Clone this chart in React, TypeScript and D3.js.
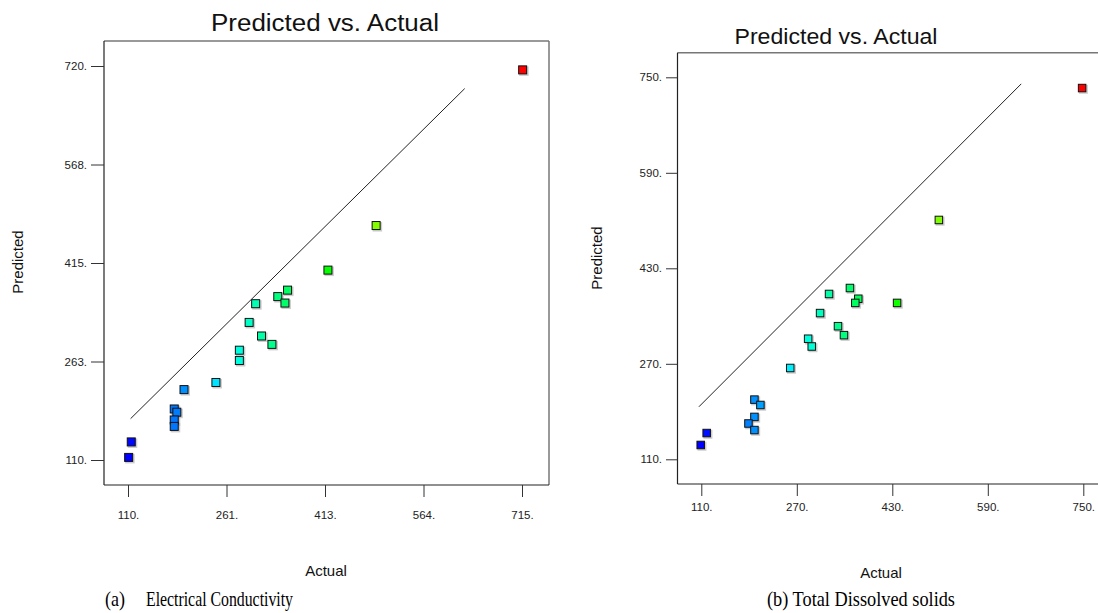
import React, { useEffect, useRef } from 'react';
import * as d3 from 'd3';

// Electrical conductivity (a)
const ecActual = [716, 491, 417, 355, 340, 351, 306, 296, 315, 331, 281, 281, 245, 196, 181, 185, 181, 181, 115, 111];
const ecPredicted = [714, 473, 404, 373, 363, 353, 352, 323, 302, 289, 280, 264, 230, 219, 189, 184, 172, 162, 138, 114];
const ecLineActual = [114, 627];
const ecLinePredicted = [174, 685];
const ecXTicks = [110, 261.25, 412.5, 563.75, 715];
const ecXLabels = ['110.', '261.', '413.', '564.', '715.'];
const ecYTicks = [110, 262.5, 415, 567.5, 720];
const ecYLabels = ['110.', '263.', '415.', '568.', '720.'];

// Total dissolved solids (b)
const tdsActual = [748, 508, 438, 359, 373, 368, 324, 309, 339, 349, 289, 295, 259, 199, 209, 199, 189, 199, 119, 109];
const tdsPredicted = [732, 511, 372, 397, 379, 372, 387, 355, 333, 318, 312, 299, 263, 210, 201, 181, 170, 159, 154, 134];
const tdsLineActual = [106, 646];
const tdsLinePredicted = [198, 739];
const tdsXTicks = [110, 270, 430, 590, 750];
const tdsXLabels = ['110.', '270.', '430.', '590.', '750.'];
const tdsYTicks = [110, 270, 430, 590, 750];
const tdsYLabels = ['110.', '270.', '430.', '590.', '750.'];

const sans = '"Liberation Sans", Arial, sans-serif';
const serif = '"Liberation Serif", "Times New Roman", serif';

const rainbow = d3.scaleLinear<string>()
  .domain([0, 0.25, 0.5, 0.75, 1])
  .range(['#0000ff', '#00ffff', '#00ff00', '#ffff00', '#ff0000']);

const drawPanel = (svg, p) => {
  const g = svg.append('g');

  const x = d3.scaleLinear().domain([p.xTicks[0], p.xTicks[4]]).range(p.xRange);
  const y = d3.scaleLinear().domain([p.yTicks[0], p.yTicks[4]]).range(p.yRange);
  const f = p.frame;

  // plot frame: lighter top/right, dark left/bottom
  g.append('line').attr('x1', f.x0).attr('x2', f.x1).attr('y1', f.y0).attr('y2', f.y0)
    .attr('stroke', '#777').attr('stroke-width', 1.5);
  g.append('line').attr('x1', f.x1).attr('x2', f.x1).attr('y1', f.y0).attr('y2', f.y1)
    .attr('stroke', '#777').attr('stroke-width', 1.5);
  g.append('line').attr('x1', f.x0).attr('x2', f.x0).attr('y1', f.y0).attr('y2', f.y1)
    .attr('stroke', '#222').attr('stroke-width', 1.2);
  g.append('line').attr('x1', f.x0).attr('x2', f.x1).attr('y1', f.y1).attr('y2', f.y1)
    .attr('stroke', '#222').attr('stroke-width', 1.2);

  // axes
  const xAxis = d3.axisBottom(x)
    .tickValues(p.xTicks)
    .tickSize(12)
    .tickPadding(p.xPad)
    .tickFormat((d, i) => p.xLabels[i]);
  const gx = g.append('g').attr('transform', `translate(0,${f.y1})`).call(xAxis);

  const yAxis = d3.axisLeft(y)
    .tickValues(p.yTicks)
    .tickSize(f.x0 - p.yTickStart)
    .tickPadding(4)
    .tickFormat((d, i) => p.yLabels[i]);
  const gy = g.append('g').attr('transform', `translate(${f.x0},0)`).call(yAxis);

  [gx, gy].forEach(a => {
    a.select('.domain').remove();
    a.selectAll('line').attr('stroke', '#333');
    a.selectAll('text').attr('font-family', sans).attr('font-size', 11.5).attr('fill', '#222');
  });

  // reference line
  g.append('line')
    .attr('x1', x(p.lineActual[0])).attr('y1', y(p.linePredicted[0]))
    .attr('x2', x(p.lineActual[1])).attr('y2', y(p.linePredicted[1]))
    .attr('stroke', '#222').attr('stroke-width', 1);

  // points, coloured by actual value
  const lo = d3.min(p.actual);
  const hi = d3.max(p.actual);
  const pts = p.actual.map((a, i) => ({ a, v: p.predicted[i] }));
  const s = p.size;
  g.selectAll('rect.shadow').data(pts).enter().append('rect')
    .attr('class', 'shadow')
    .attr('x', d => x(d.a) - s / 2 + 0.5).attr('y', d => y(d.v) - s / 2 + 0.5)
    .attr('width', s + 1.5).attr('height', s + 1.5)
    .attr('fill', '#aaa').attr('opacity', 0.6);
  g.selectAll('rect.pt').data(pts).enter().append('rect')
    .attr('class', 'pt')
    .attr('x', d => x(d.a) - s / 2).attr('y', d => y(d.v) - s / 2)
    .attr('width', s).attr('height', s)
    .attr('fill', d => rainbow((d.a - lo) / (hi - lo)))
    .attr('stroke', '#111').attr('stroke-width', 1);

  // titles
  g.append('text').attr('x', p.title[0]).attr('y', p.title[1])
    .attr('text-anchor', 'middle').attr('font-family', sans).attr('font-size', p.title[2])
    .attr('textLength', p.title[3]).attr('lengthAdjust', 'spacingAndGlyphs')
    .attr('fill', '#111').text('Predicted vs. Actual');
  g.append('text')
    .attr('transform', `translate(${p.yTitle[0]},${p.yTitle[1]}) rotate(-90)`)
    .attr('text-anchor', 'middle').attr('font-family', sans).attr('font-size', 15)
    .attr('fill', '#111').text('Predicted');
  g.append('text').attr('x', p.xTitle[0]).attr('y', p.xTitle[1])
    .attr('text-anchor', 'middle').attr('font-family', sans).attr('font-size', 15)
    .attr('fill', '#111').text('Actual');
};

const App = () => {
  const ref = useRef(null);

  useEffect(() => {
    const svg = d3.select(ref.current);
    svg.selectAll('*').remove();

    drawPanel(svg, {
      actual: ecActual, predicted: ecPredicted,
      lineActual: ecLineActual, linePredicted: ecLinePredicted,
      xTicks: ecXTicks, xLabels: ecXLabels, yTicks: ecYTicks, yLabels: ecYLabels,
      xRange: [128, 522], yRange: [460, 66],
      frame: { x0: 104, x1: 549, y0: 41, y1: 485 },
      yTickStart: 91, size: 8, xPad: 14,
      title: [325, 31, 23.5, 228], yTitle: [23, 262], xTitle: [326, 576],
    });

    drawPanel(svg, {
      actual: tdsActual, predicted: tdsPredicted,
      lineActual: tdsLineActual, linePredicted: tdsLinePredicted,
      xTicks: tdsXTicks, xLabels: tdsXLabels, yTicks: tdsYTicks, yLabels: tdsYLabels,
      xRange: [701.3, 1083.3], yRange: [459.3, 77.3],
      frame: { x0: 677.5, x1: 1110, y0: 52.7, y1: 484 },
      yTickStart: 666, size: 7.5, xPad: 7,
      title: [836, 44, 21.5, 203], yTitle: [602, 258], xTitle: [881, 578],
    });

    // captions
    svg.append('text').attr('x', 105).attr('y', 606)
      .attr('font-family', serif).attr('font-size', 21)
      .attr('textLength', 20).attr('lengthAdjust', 'spacingAndGlyphs').text('(a)');
    svg.append('text').attr('x', 146).attr('y', 606)
      .attr('font-family', serif).attr('font-size', 21)
      .attr('textLength', 147).attr('lengthAdjust', 'spacingAndGlyphs').text('Electrical Conductivity');
    svg.append('text').attr('x', 767).attr('y', 606)
      .attr('font-family', serif).attr('font-size', 21)
      .attr('textLength', 188).attr('lengthAdjust', 'spacingAndGlyphs').text('(b) Total Dissolved solids');
  }, []);

  return (
    <svg ref={ref} width={1098} height={613}
      style={{ position: 'absolute', left: 0, top: 0, background: '#fff' }} />
  );
};

export default App;
